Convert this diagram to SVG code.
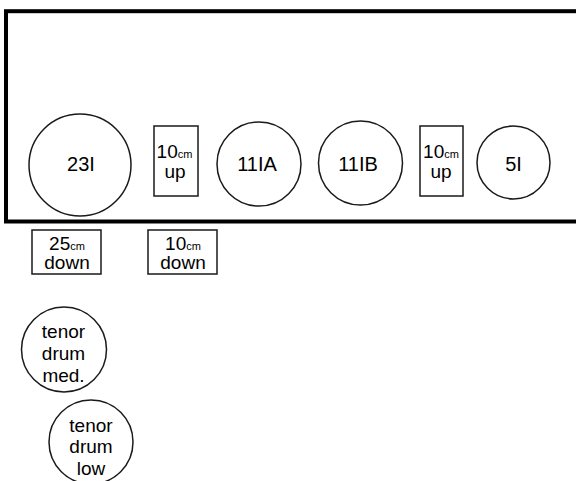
<svg xmlns="http://www.w3.org/2000/svg" width="576" height="481" viewBox="0 0 576 481">
<style>
.s{fill:none;stroke:#1a1a1a;stroke-width:1.5}
.f{fill:none;stroke:#000;stroke-width:4}
text{font-family:"Liberation Sans",Arial,sans-serif;font-size:19px;fill:#000;text-anchor:middle}
.big{font-size:20px}
.cm{font-size:11px}
</style>
<rect width="576" height="481" fill="#fff"/>
<g id="frame"><rect class="f" x="6" y="11.2" width="600" height="210.3"/></g>
<g id="connectors"></g>
<g id="n23I"><circle class="s" cx="80" cy="165" r="51"/><text class="big" x="81" y="171">23I</text></g>
<g id="up1"><rect class="s" x="154" y="126" width="44" height="70"/><text x="174.5" y="158">10<tspan class="cm">cm</tspan></text><text x="175" y="178">up</text></g>
<g id="n11IA"><circle class="s" cx="259" cy="164" r="42"/><text class="big" x="257" y="171">11IA</text></g>
<g id="n11IB"><circle class="s" cx="360.5" cy="163" r="42"/><text class="big" x="358" y="171">11IB</text></g>
<g id="up2"><rect class="s" x="420" y="126" width="43" height="70"/><text x="441" y="158">10<tspan class="cm">cm</tspan></text><text x="441" y="178">up</text></g>
<g id="n5I"><circle class="s" cx="513.5" cy="162.5" r="36.5"/><text class="big" x="513.5" y="171">5I</text></g>
<g id="down25"><rect class="s" x="32" y="230" width="69" height="44"/><text x="67" y="250">25<tspan class="cm">cm</tspan></text><text x="67" y="269">down</text></g>
<g id="down10"><rect class="s" x="148" y="230" width="69" height="44"/><text x="183" y="250">10<tspan class="cm">cm</tspan></text><text x="183" y="269">down</text></g>
<g id="tenorMed"><circle class="s" cx="64" cy="349.5" r="42.5"/><text x="63.5" y="338">tenor</text><text x="63.5" y="360">drum</text><text x="63.5" y="382">med.</text></g>
<g id="tenorLow"><circle class="s" cx="91" cy="442" r="42"/><text x="91" y="432">tenor</text><text x="91" y="453">drum</text><text x="91" y="475">low</text></g>
</svg>
